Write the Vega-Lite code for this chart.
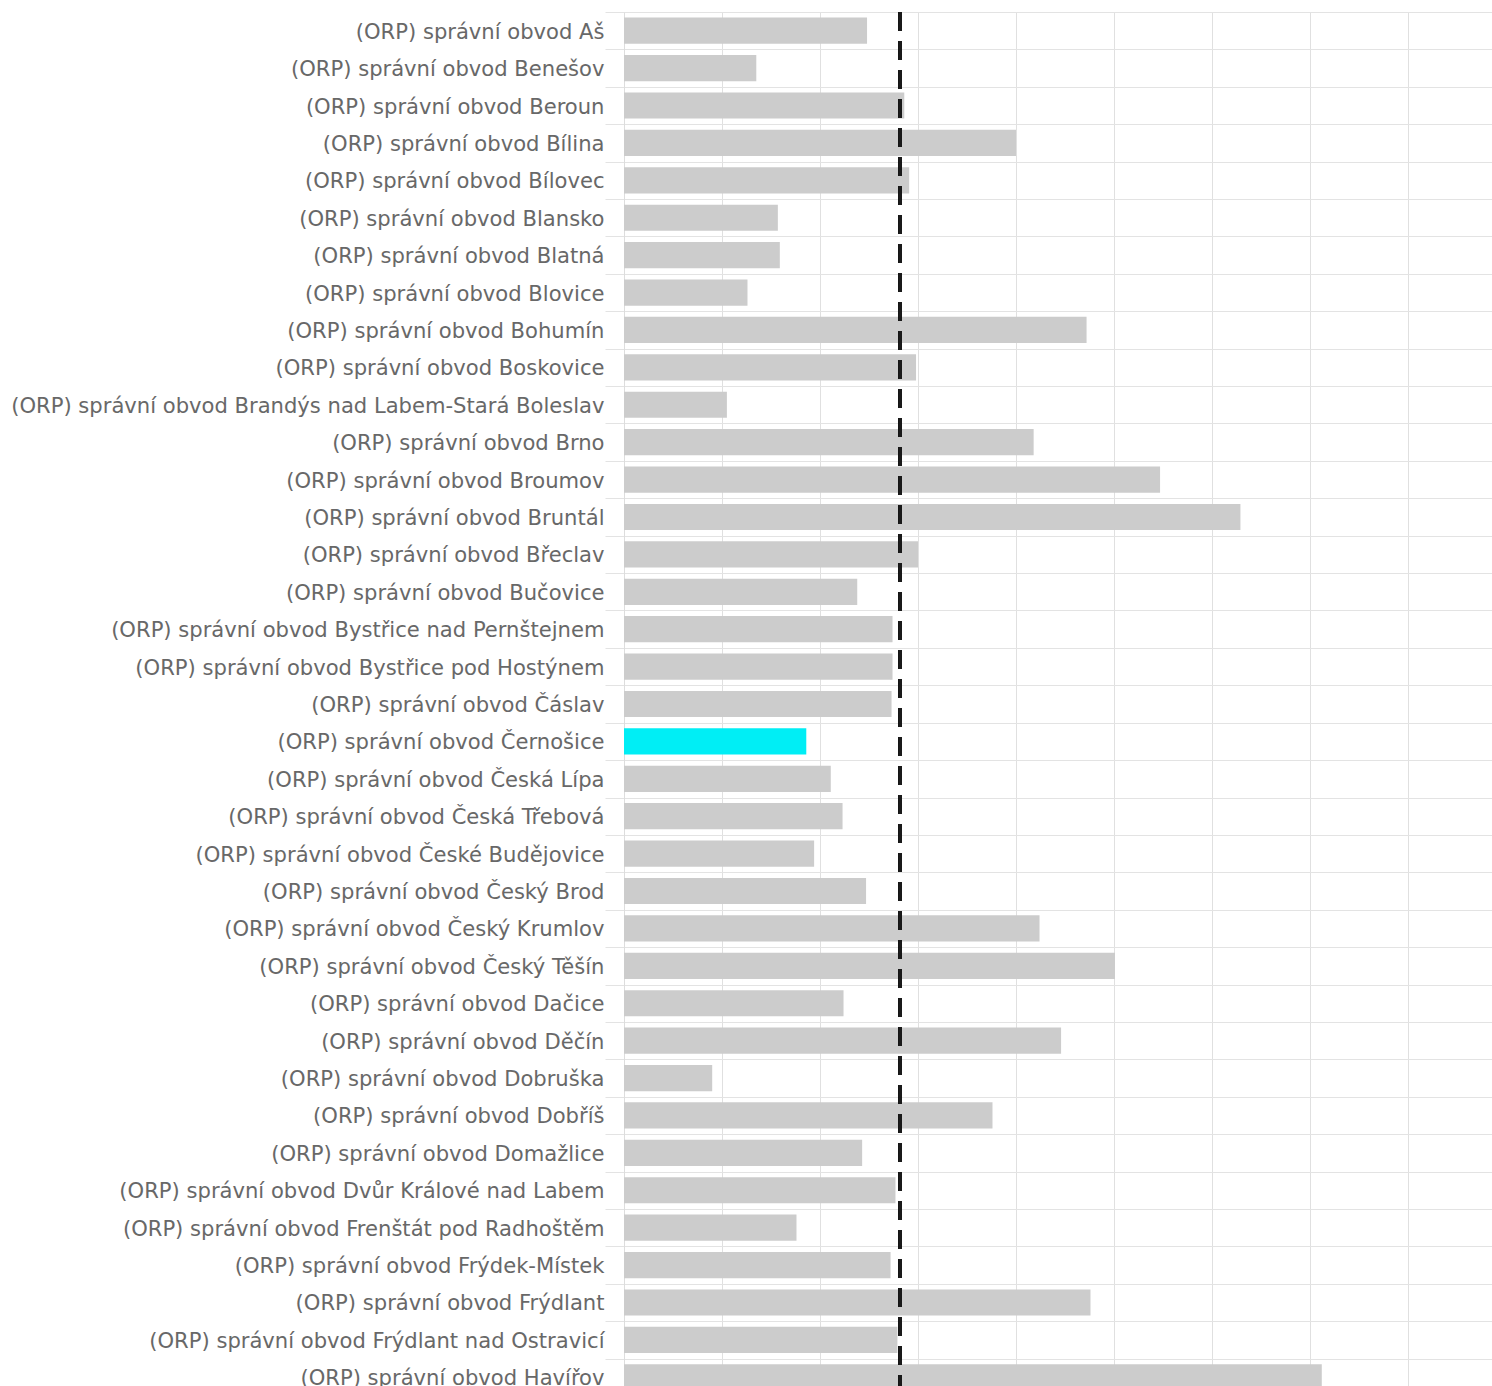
{
  "$schema": "https://vega.github.io/schema/vega-lite/v6.json",
  "autosize": "none",
  "padding": {"left": 624, "top": 12, "right": 0, "bottom": 0},
  "width": 868,
  "height": 1384,
  "background": "white",
  "config": {
    "view": {"stroke": null},
    "font": "DejaVu Sans"
  },
  "data": {
    "values": [
      {"name": "(ORP) správní obvod Aš", "value": 2.48},
      {"name": "(ORP) správní obvod Benešov", "value": 1.35},
      {"name": "(ORP) správní obvod Beroun", "value": 2.86},
      {"name": "(ORP) správní obvod Bílina", "value": 4.0},
      {"name": "(ORP) správní obvod Bílovec", "value": 2.91},
      {"name": "(ORP) správní obvod Blansko", "value": 1.57},
      {"name": "(ORP) správní obvod Blatná", "value": 1.59},
      {"name": "(ORP) správní obvod Blovice", "value": 1.26},
      {"name": "(ORP) správní obvod Bohumín", "value": 4.72},
      {"name": "(ORP) správní obvod Boskovice", "value": 2.98},
      {"name": "(ORP) správní obvod Brandýs nad Labem-Stará Boleslav", "value": 1.05},
      {"name": "(ORP) správní obvod Brno", "value": 4.18},
      {"name": "(ORP) správní obvod Broumov", "value": 5.47},
      {"name": "(ORP) správní obvod Bruntál", "value": 6.29},
      {"name": "(ORP) správní obvod Břeclav", "value": 3.0},
      {"name": "(ORP) správní obvod Bučovice", "value": 2.38},
      {"name": "(ORP) správní obvod Bystřice nad Pernštejnem", "value": 2.74},
      {"name": "(ORP) správní obvod Bystřice pod Hostýnem", "value": 2.74},
      {"name": "(ORP) správní obvod Čáslav", "value": 2.73},
      {"name": "(ORP) správní obvod Černošice", "value": 1.86},
      {"name": "(ORP) správní obvod Česká Lípa", "value": 2.11},
      {"name": "(ORP) správní obvod Česká Třebová", "value": 2.23},
      {"name": "(ORP) správní obvod České Budějovice", "value": 1.94},
      {"name": "(ORP) správní obvod Český Brod", "value": 2.47},
      {"name": "(ORP) správní obvod Český Krumlov", "value": 4.24},
      {"name": "(ORP) správní obvod Český Těšín", "value": 5.01},
      {"name": "(ORP) správní obvod Dačice", "value": 2.24},
      {"name": "(ORP) správní obvod Děčín", "value": 4.46},
      {"name": "(ORP) správní obvod Dobruška", "value": 0.9},
      {"name": "(ORP) správní obvod Dobříš", "value": 3.76},
      {"name": "(ORP) správní obvod Domažlice", "value": 2.43},
      {"name": "(ORP) správní obvod Dvůr Králové nad Labem", "value": 2.77},
      {"name": "(ORP) správní obvod Frenštát pod Radhoštěm", "value": 1.76},
      {"name": "(ORP) správní obvod Frýdek-Místek", "value": 2.72},
      {"name": "(ORP) správní obvod Frýdlant", "value": 4.76},
      {"name": "(ORP) správní obvod Frýdlant nad Ostravicí", "value": 2.79},
      {"name": "(ORP) správní obvod Havířov", "value": 7.12}
    ]
  },
  "layer": [
    {
      "mark": {"type": "bar", "height": {"band": 0.7}},
      "encoding": {
        "y": {
          "field": "name",
          "type": "nominal",
          "sort": null,
          "scale": {"paddingInner": 0, "paddingOuter": 0},
          "axis": {
            "title": null,
            "tickBand": "extent",
            "grid": true,
            "gridColor": "#e3e3e3",
            "gridWidth": 1,
            "tickColor": "#e3e3e3",
            "tickSize": 19,
            "labelPadding": 1,
            "labelOffset": 1.5,
            "domainColor": "#dddddd",
            "labelFont": "DejaVu Sans",
            "labelFontSize": 21.1,
            "labelColor": "#686868",
            "labelLimit": 0
          }
        },
        "x": {
          "field": "value",
          "type": "quantitative",
          "scale": {"domain": [0, 8.857], "nice": false},
          "axis": {
            "title": null,
            "values": [0, 1, 2, 3, 4, 5, 6, 7, 8],
            "grid": true,
            "gridColor": "#e0e0e0",
            "domain": false,
            "ticks": false,
            "labels": false
          }
        },
        "color": {
          "condition": {"test": "datum.name === '(ORP) správní obvod Černošice'", "value": "#00eef5"},
          "value": "#cccccc"
        }
      }
    },
    {
      "mark": {"type": "rule", "color": "#1a1a1a", "strokeWidth": 3, "strokeDash": [19, 10]},
      "encoding": {"x": {"datum": 2.82}}
    }
  ]
}
